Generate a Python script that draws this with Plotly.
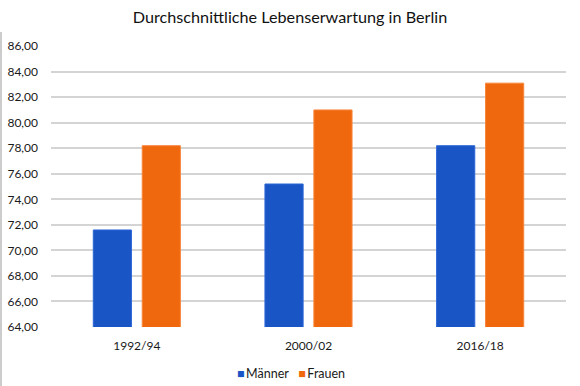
import plotly.graph_objects as go

categories = ["1992/94", "2000/02", "2016/18"]
maenner = [71.6, 75.2, 78.2]
frauen = [78.2, 81.0, 83.1]
y_ticks = [64, 66, 68, 70, 72, 74, 76, 78, 80, 82, 84, 86]
y_tick_labels = [f"{v:.2f}".replace(".", ",") for v in y_ticks]
blue = "#1a55c6"
orange = "#f0680e"

fig = go.Figure()
fig.add_trace(go.Bar(name="Männer", x=categories, y=maenner,
                     marker=dict(color=blue, line=dict(color="#2a66d6", width=1))))
fig.add_trace(go.Bar(name="Frauen", x=categories, y=frauen,
                     marker=dict(color=orange, line=dict(color="#f8843a", width=1))))

fig.update_layout(
    width=580, height=386,
    margin=dict(l=51, r=14, t=46, b=59, autoexpand=False),
    paper_bgcolor="white", plot_bgcolor="white",
    font=dict(family="Lato, Open Sans, sans-serif", size=12, color="#1a1a1a"),
    title=dict(text="Durchschnittliche Lebenserwartung in Berlin",
               x=0.5, xanchor="center", y=0.955, yanchor="middle",
               font=dict(size=16.2, color="#111111", family="Lato, sans-serif")),
    barmode="group", bargap=0.43, bargroupgap=0.22,
    showlegend=False,
    xaxis=dict(showgrid=False, showline=False, ticks="", tickfont=dict(size=12),
               automargin=False, ticklabelstandoff=10),
    yaxis=dict(range=[64, 86.01], tickvals=y_ticks, ticktext=y_tick_labels,
               showgrid=True, gridcolor="#d4d4d4", gridwidth=1.5, zeroline=False,
               showline=False, ticks="", tickfont=dict(size=12),
               ticklabelstandoff=12, automargin=False),
)

legend_text = (f"<span style='color:{blue}'>■</span>\u2009Männer"
               f"\u2003<span style='color:{orange}'>■</span>\u2009Frauen")
fig.add_annotation(text=legend_text, xref="paper", yref="paper", x=(291 - 51) / 515,
                   y=-46 / 281, xanchor="center", yanchor="middle", showarrow=False,
                   font=dict(size=12.5, color="#1a1a1a"))

fig.add_shape(type="line", xref="paper", yref="paper", x0=-50 / 515, x1=-50 / 515,
              y0=-59 / 281, y1=1.05, line=dict(color="#cccccc", width=2))

fig.write_html("out.html", config={"displayModeBar": False},
               post_script="document.body.style.margin='0';")
